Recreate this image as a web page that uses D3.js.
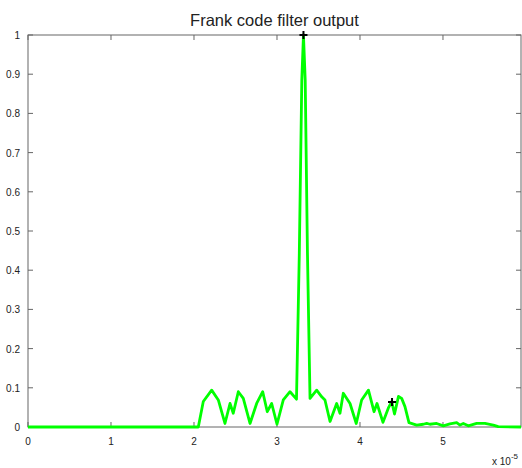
<!DOCTYPE html>
<html>
<head>
<meta charset="utf-8">
<script src="https://cdn.jsdelivr.net/npm/d3@7"></script>
<style>
  body { margin: 0; background: #fff; }
  text { font-family: "Liberation Sans", Arial, sans-serif; fill: #222; }
</style>
</head>
<body>
<svg width="522" height="468"></svg>
<script>
// time axis in units of 1e-5 s
const timeVals = [0, 2.052, 2.112, 2.213, 2.293, 2.373, 2.434, 2.473, 2.534, 2.594, 2.675,
  2.755, 2.828, 2.883, 2.936, 3.000, 3.076, 3.157, 3.235, 3.269, 3.299, 3.319, 3.340,
  3.367, 3.398, 3.478, 3.539, 3.578, 3.639, 3.719, 3.759, 3.799, 3.880, 3.955, 4.020,
  4.102, 4.169, 4.205, 4.277, 4.341, 4.382, 4.416, 4.464, 4.502, 4.542, 4.590, 4.683,
  4.763, 4.804, 4.843, 4.924, 5.004, 5.084, 5.165, 5.205, 5.245, 5.305, 5.406, 5.506,
  5.606, 5.666, 5.94]
const outputVals = [0, 0, 0.065, 0.094, 0.069, 0.009, 0.060, 0.035, 0.090, 0.073, 0.009,
  0.060, 0.090, 0.039, 0.060, 0.007, 0.069, 0.090, 0.071, 0.444, 0.885, 1.0, 0.885,
  0.444, 0.073, 0.094, 0.077, 0.069, 0.014, 0.060, 0.035, 0.086, 0.060, 0.009, 0.069,
  0.094, 0.039, 0.060, 0.012, 0.048, 0.065, 0.033, 0.078, 0.073, 0.052, 0.011, 0.005,
  0.007, 0.009, 0.007, 0.009, 0.003, 0.008, 0.011, 0.005, 0.009, 0.003, 0.009, 0.009,
  0.005, 0.001, 0]
// '+' markers
const markX = [3.319, 4.386]
const markY = [1.0, 0.064]

const xTicks = [0, 1, 2, 3, 4, 5]
const yTicks = [0, 0.1, 0.2, 0.3, 0.4, 0.5, 0.6, 0.7, 0.8, 0.9, 1]

const L = 28, R = 521, T = 35, B = 427
const svg = d3.select("svg")

const x = d3.scaleLinear().domain([0, 5.94]).range([L, R])
const y = d3.scaleLinear().domain([0, 1]).range([B, T])

const axisCol = "#666"
const g = svg.append("g")

// box
g.append("rect").attr("x", L).attr("y", T).attr("width", R - L).attr("height", B - T)
  .attr("fill", "none").attr("stroke", axisCol).attr("stroke-width", 1)

// ticks inward on all sides
xTicks.forEach(function(t){
  g.append("line").attr("x1", x(t)).attr("x2", x(t)).attr("y1", B).attr("y2", B - 5).attr("stroke", axisCol)
  g.append("line").attr("x1", x(t)).attr("x2", x(t)).attr("y1", T).attr("y2", T + 5).attr("stroke", axisCol)
  g.append("text").attr("x", x(t)).attr("y", B + 18).attr("text-anchor", "middle")
    .attr("font-size", 10).text(t)
})
yTicks.forEach(function(t){
  g.append("line").attr("x1", L).attr("x2", L + 5).attr("y1", y(t)).attr("y2", y(t)).attr("stroke", axisCol)
  g.append("line").attr("x1", R).attr("x2", R - 5).attr("y1", y(t)).attr("y2", y(t)).attr("stroke", axisCol)
  g.append("text").attr("x", L - 8).attr("y", y(t) + 4).attr("text-anchor", "end")
    .attr("font-size", 10).text(t)
})

// exponent label
const ex = g.append("text").attr("x", 492).attr("y", 465).attr("font-size", 10)
ex.append("tspan").text("x 10")
ex.append("tspan").attr("dy", -6).attr("font-size", 8).text("-5")

// title
svg.append("text").attr("x", (L + R) / 2).attr("y", 26).attr("text-anchor", "middle")
  .attr("font-size", 16.5).text("Frank code filter output")

// signal
const pts = timeVals.map(function(d, i){ return [d, outputVals[i]] })
svg.append("path").datum(pts)
  .attr("d", d3.line().x(function(d){ return x(d[0]) }).y(function(d){ return y(d[1]) }))
  .attr("fill", "none").attr("stroke", "#00ff00").attr("stroke-width", 2.8)
  .attr("stroke-linejoin", "round")

// markers
markX.forEach(function(mx, i){
  const cx = x(mx), cy = y(markY[i])
  svg.append("path").attr("d", "M" + (cx - 4) + "," + cy + "H" + (cx + 4) + "M" + cx + "," + (cy - 4) + "V" + (cy + 4))
    .attr("stroke", "#000").attr("stroke-width", 2)
})
</script>
</body>
</html>
